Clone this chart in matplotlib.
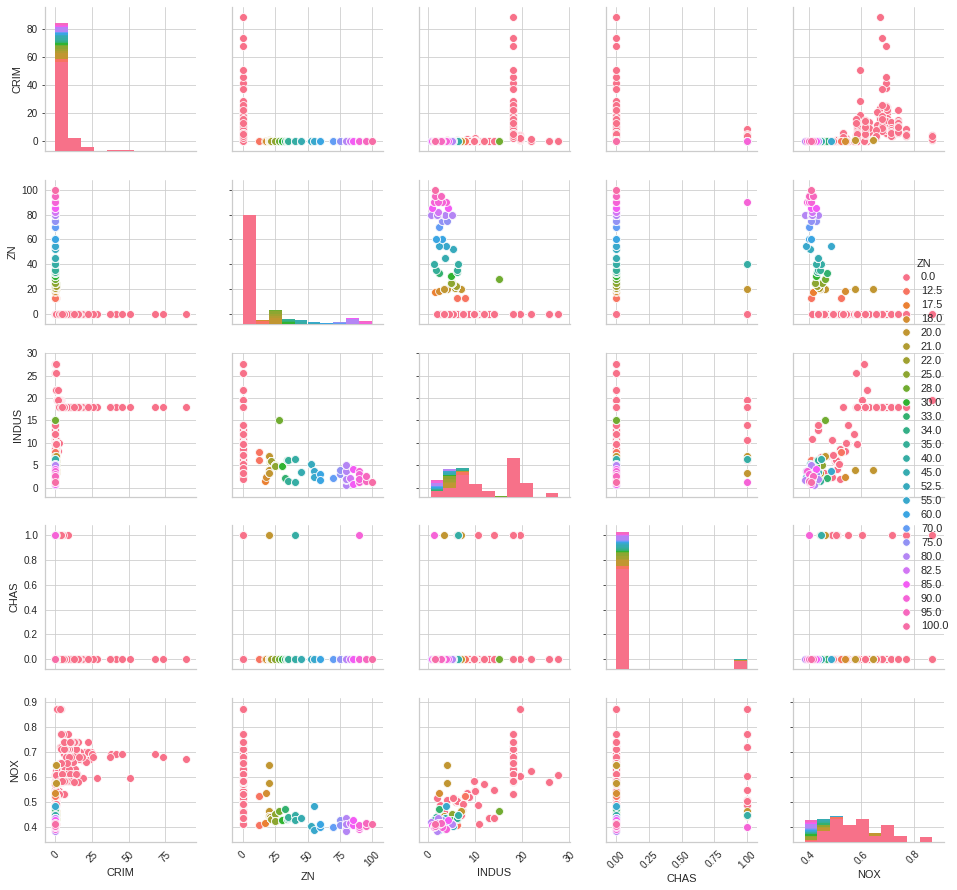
import numpy as np
import pandas as pd
import matplotlib
matplotlib.use("Agg")
import matplotlib.pyplot as plt
from matplotlib.lines import Line2D
import seaborn as sns

# --- Boston housing tracts, grouped into town blocks that share ZN / INDUS / NOX ---
# town_crim holds the CRIM of the tracts off the river (CHAS = 0),
# town_crim_river those bounding the Charles river (CHAS = 1)
town_zn = [0, 0, 0, 0, 0, 0, 0, 0, 0, 0,
           0, 0, 0, 0, 0, 0, 0, 0, 0, 0,
           0, 0, 0, 0, 0, 0, 0, 0, 0, 0,
           0, 0, 12.5, 12.5, 17.5, 18, 20, 20, 20, 20,
           21, 22, 25, 25, 28, 30, 33, 34, 35, 35,
           40, 40, 45, 52.5, 55, 55, 60, 60, 70, 75,
           75, 80, 80, 80, 80, 80, 80, 80, 80, 82.5,
           85, 85, 90, 90, 90, 90, 90, 95, 95, 100]
town_indus = [7.07, 2.18, 8.14, 5.96, 6.91, 10.81, 12.83, 4.49, 3.41, 2.89,
              8.56, 10.01, 25.65, 21.89, 19.58, 19.58, 4.05, 2.46, 10.59, 13.89,
              6.2, 6.2, 5.19, 4.39, 1.89, 3.24, 7.38, 13.92, 9.9, 9.69,
              11.93, 27.74, 7.87, 6.07, 1.38, 2.31, 3.97, 3.97, 6.96, 3.33,
              5.64, 5.86, 5.13, 4.86, 15.04, 4.93, 2.18, 6.09, 6.06, 1.52,
              6.41, 1.25, 3.44, 5.32, 3.78, 2.25, 2.93, 1.69, 2.24, 2.95,
              4.0, 3.37, 1.52, 0.46, 3.64, 1.76, 4.95, 2.01, 1.91, 2.03,
              0.74, 4.15, 1.22, 3.75, 1.21, 2.97, 2.02, 1.47, 2.68, 1.32]
town_nox = [0.469, 0.458, 0.538, 0.499, 0.448, 0.413, 0.437, 0.449, 0.489, 0.445,
            0.52, 0.547, 0.581, 0.624, 0.871, 0.605, 0.51, 0.488, 0.489, 0.55,
            0.507, 0.504, 0.515, 0.442, 0.518, 0.46, 0.493, 0.437, 0.544, 0.585,
            0.573, 0.609, 0.524, 0.409, 0.4161, 0.538, 0.647, 0.575, 0.464, 0.4429,
            0.439, 0.431, 0.453, 0.426, 0.464, 0.428, 0.472, 0.433, 0.4379, 0.442,
            0.447, 0.429, 0.437, 0.405, 0.484, 0.389, 0.401, 0.411, 0.4, 0.428,
            0.41, 0.398, 0.404, 0.422, 0.392, 0.385, 0.411, 0.435, 0.413, 0.415,
            0.41, 0.429, 0.403, 0.394, 0.401, 0.4, 0.41, 0.403, 0.4161, 0.411]
town_crim = [
    [0.027, 0.027], [0.032, 0.069, 0.030, 0.047],
    [0.63, 0.638, 0.627, 1.054, 0.784, 0.803, 0.726, 1.252, 0.852, 1.232, 0.988,
     0.75, 0.841, 0.672, 0.956, 0.773, 1.002, 1.131, 1.355, 1.388, 1.152, 1.613],
    [0.064, 0.097, 0.08, 0.175], [0.127, 0.142, 0.159, 0.123, 0.171, 0.188, 0.229, 0.254],
    [0.088, 0.159, 0.092, 0.195], [0.079, 0.095, 0.102, 0.087, 0.056, 0.084],
    [0.051, 0.057, 0.052, 0.072], [0.057, 0.053, 0.047, 0.039],
    [0.122, 0.115, 0.121, 0.082, 0.069],
    [0.149, 0.114, 0.229, 0.212, 0.14, 0.133, 0.171, 0.131, 0.128, 0.264, 0.108],
    [0.101, 0.123, 0.222, 0.142, 0.171, 0.132, 0.151, 0.131, 0.145],
    [0.069, 0.072, 0.093, 0.15, 0.098, 0.169, 0.387],
    [0.259, 0.325, 0.881, 0.34, 1.193, 0.59, 0.33, 0.976, 0.558, 0.323, 0.352,
     0.25, 0.545, 0.291, 1.629],
    [4.097, 2.78, 2.379, 2.155, 2.369, 2.331, 2.734, 1.657, 1.496, 2.149, 2.447, 1.224],
    [1.343, 1.425, 1.519, 2.242, 2.924, 1.8, 2.3, 2.45, 1.207, 2.314],
    [0.067, 0.07, 0.054, 0.066, 0.058, 0.066, 0.069],
    [0.091, 0.1, 0.083, 0.06, 0.056, 0.058, 0.079, 0.066],
    [0.23, 0.252, 0.141, 0.29, 0.198, 0.351], [0.046, 0.07],
    [0.315, 0.527, 0.382], [0.298, 0.442, 0.537, 0.463, 0.575, 0.331, 0.33, 0.512],
    [0.037, 0.04, 0.034, 0.03, 0.033, 0.055, 0.062, 0.051], [0.031, 0.062], [0.025],
    [0.12, 0.19, 0.34], [0.13, 0.35, 0.19, 0.12, 0.16, 0.28, 0.17, 0.21],
    [0.083, 0.082, 0.129, 0.054, 0.141],
    [0.493, 0.349, 2.635, 0.79, 0.262, 0.269, 0.369, 0.254, 0.318, 0.245, 0.402, 0.475],
    [0.29, 0.268, 0.239, 0.178, 0.224, 0.13, 0.25, 0.2],
    [0.063, 0.045, 0.061, 0.11, 0.047], [0.106, 0.111, 0.173, 0.28, 0.179],
    [0.088, 0.145, 0.211, 0.17, 0.225, 0.117, 0.094], [0.058, 0.136, 0.128],
    [0.02], [0.006],
    [0.612, 0.664, 0.657, 0.54, 0.534, 0.52, 0.825, 0.55, 0.762, 0.786, 0.578],
    [0.541, 0.527], [0.299, 0.162, 0.115], [0.21, 0.036, 0.037],
    [0.089, 0.043, 0.054, 0.05],
    [0.206, 0.191, 0.34, 0.197, 0.164, 0.191, 0.14, 0.214, 0.082, 0.369],
    [0.154, 0.103, 0.149, 0.172, 0.11, 0.127], [0.041, 0.045, 0.037, 0.036],
    [0.042, 0.029, 0.043], [0.082, 0.093, 0.113, 0.106, 0.103, 0.128],
    [0.055, 0.055, 0.075, 0.049], [0.035, 0.093, 0.1], [0.05, 0.035], [0.013],
    [0.096, 0.08], [0.029, 0.062], [0.079, 0.126, 0.084, 0.091, 0.069, 0.087],
    [0.039, 0.046, 0.043], [0.025, 0.03], [0.011], [0.022, 0.014], [0.08, 0.072],
    [0.065, 0.056, 0.044], [0.028, 0.034], [0.014], [0.036, 0.044],
    [0.04, 0.047, 0.038], [0.014], [0.048, 0.035], [0.02], [0.035, 0.079, 0.036],
    [0.015], [0.043, 0.107], [0.034, 0.022], [0.021], [0.019], [0.013], [0.015],
    [], [0.009], [0.017], [0.032, 0.018], [0.035, 0.02], [0.014]]
town_crim_river = [
    [], [], [], [], [], [], [], [], [], [],
    [], [], [], [], [3.321, 1.127, 1.414, 3.535], [1.273, 1.463, 1.834, 2.01],
    [], [], [0.136, 0.436, 0.174, 0.376, 0.217], [0.111, 0.114],
    [0.358, 0.408, 0.624, 0.412, 0.615], [0.448, 0.521], [], [], [], [], [], [], [], [],
    [], [], [], [], [], [], [], [], [0.222], [0.061],
    [], [], [], [], [], [], [], [], [], [],
    [0.056, 0.105, 0.061], [], [], [], [], [], [], [], [], [],
    [], [], [], [], [], [], [], [], [], [],
    [], [], [], [], [0.015], [], [], [], [], []]

# INDUS = 18.1 block (all ZN = 0), split by NOX level
indus18_nox = [0.77, 0.718, 0.631, 0.668, 0.671, 0.7, 0.693, 0.659, 0.597,
               0.679, 0.614, 0.584, 0.713, 0.74, 0.655, 0.58, 0.532, 0.583]
indus18_crim = [
    [4.261, 4.542, 3.837], [4.556, 11.812, 11.087, 7.023],
    [13.522, 4.898, 5.67, 6.539, 9.232], [8.267, 11.108, 18.498],
    [19.609, 15.288, 9.823, 23.648, 17.867, 88.976, 15.874],
    [9.187, 7.992, 20.085, 16.812, 24.394, 22.597, 14.334, 8.152, 6.962, 5.293, 11.578],
    [8.645, 13.36, 8.717, 5.872, 7.672, 38.352, 9.917, 25.046, 14.236, 9.596,
     24.802, 41.529, 67.921, 45.746],
    [20.716, 11.951], [7.404, 14.438, 51.136, 14.051, 18.811, 28.656],
    [18.085, 10.834, 25.941, 73.534, 15.86, 37.662, 7.367, 9.339],
    [12.048, 7.05, 4.647, 4.871, 15.023, 10.233, 14.334],
    [8.792, 12.247, 8.492, 10.062, 6.444, 4.422, 8.056, 6.393],
    [5.581, 13.913, 9.329, 7.526, 6.718, 5.441, 5.09, 8.248, 9.514, 4.752, 4.669,
     8.201, 7.752, 6.801, 4.812, 3.693, 6.655, 5.821],
    [11.16, 14.421, 15.177, 13.678, 9.391, 22.051, 9.724, 5.666, 9.967, 12.802,
     10.672, 6.288, 9.925],
    [7.839, 3.164, 3.775], [15.576, 13.075, 4.349, 3.569],
    [4.038, 5.824, 5.708, 5.731, 2.818], [2.379, 3.674, 5.692, 4.836]]
indus18_crim_river = [[8.983, 3.85, 5.202, 3.678, 4.222], [3.474, 3.697],
                      [], [], [], [], [], [], [], [], [], [], [], [], [], [], [], []]

variables = ["CRIM", "ZN", "INDUS", "CHAS", "NOX"]
axis_limits = {"CRIM": (-7.0, 96.0), "ZN": (-8.2, 108.2), "INDUS": (-2.0, 30.2),
               "CHAS": (-0.08, 1.08), "NOX": (0.341, 0.915)}
x_ticks = {"CRIM": [0, 25, 50, 75], "ZN": [0, 25, 50, 75, 100], "INDUS": [0, 10, 20, 30],
           "CHAS": [0, 0.25, 0.5, 0.75, 1.0], "NOX": [0.4, 0.6, 0.8]}
y_ticks = {"CRIM": [0, 20, 40, 60, 80], "ZN": [0, 20, 40, 60, 80, 100],
           "INDUS": [0, 5, 10, 15, 20, 25, 30], "CHAS": [0, 0.2, 0.4, 0.6, 0.8, 1.0],
           "NOX": [0.4, 0.5, 0.6, 0.7, 0.8, 0.9]}

# --- expand town blocks into one row per tract ---
rows = []
for zn, indus, nox, crims, river in zip(town_zn, town_indus, town_nox, town_crim, town_crim_river):
    rows += [(c, zn, indus, 0, nox) for c in crims]
    rows += [(c, zn, indus, 1, nox) for c in river]
for nox, crims, river in zip(indus18_nox, indus18_crim, indus18_crim_river):
    rows += [(c, 0, 18.1, 0, nox) for c in crims]
    rows += [(c, 0, 18.1, 1, nox) for c in river]
df = pd.DataFrame(rows, columns=variables)

sns.set_style("whitegrid")
plt.rcParams["font.family"] = ["Liberation Sans", "DejaVu Sans"]
plt.rcParams["axes.linewidth"] = 1.25
plt.rcParams["xtick.labelsize"] = 10
plt.rcParams["ytick.labelsize"] = 10
plt.rcParams["axes.labelsize"] = 11

levels = sorted(df["ZN"].unique())
palette = sns.color_palette("husl", len(levels))

fig, axes = plt.subplots(5, 5, figsize=(957 / 72, 890 / 72), dpi=72, sharex="col", sharey="row")
fig.subplots_adjust(left=45 / 957, right=944 / 957, bottom=1 - 842 / 890, top=1 - 7 / 890,
                    wspace=36 / 151, hspace=28.75 / 144)

diag_axes = []
for i, yvar in enumerate(variables):
    for j, xvar in enumerate(variables):
        ax = axes[i, j]
        if i == j:
            dax = ax.twinx()
            dax.axis("off")
            if diag_axes:
                dax.sharey(diag_axes[0])
            diag_axes.append(dax)
            vals = [df.loc[df["ZN"] == lv, xvar].values for lv in levels]
            dax.hist(vals, bins=10, histtype="barstacked", color=palette, linewidth=0)
        else:
            for lv, col in zip(levels, palette):
                sub = df[df["ZN"] == lv]
                ax.scatter(sub[xvar], sub[yvar], s=62, color=col, edgecolor="white", linewidth=0.75)
        sns.despine(ax=ax)

for j, var in enumerate(variables):
    axes[0, j].set_xlim(axis_limits[var])
    axes[0, j].set_xticks(x_ticks[var])
    axes[j, 0].set_ylim(axis_limits[var])
    axes[j, 0].set_yticks(y_ticks[var])
    axes[4, j].set_xlabel(var)
    axes[j, 0].set_ylabel(var)
    plt.setp(axes[4, j].get_xticklabels(), rotation=45)

handles = [Line2D([], [], marker="o", linestyle="", color=col, markersize=7.5,
                  markeredgecolor="white", markeredgewidth=0.75) for col in palette]
labels = [f"{lv:.1f}" for lv in levels]
fig.legend(handles, labels, title="ZN", loc="center left", bbox_to_anchor=(0.929, 0.5),
           frameon=False, fontsize=11, title_fontsize=11, handlelength=1.2,
           labelspacing=0.36, borderpad=0.4)

fig.savefig("out.png", dpi=72)
